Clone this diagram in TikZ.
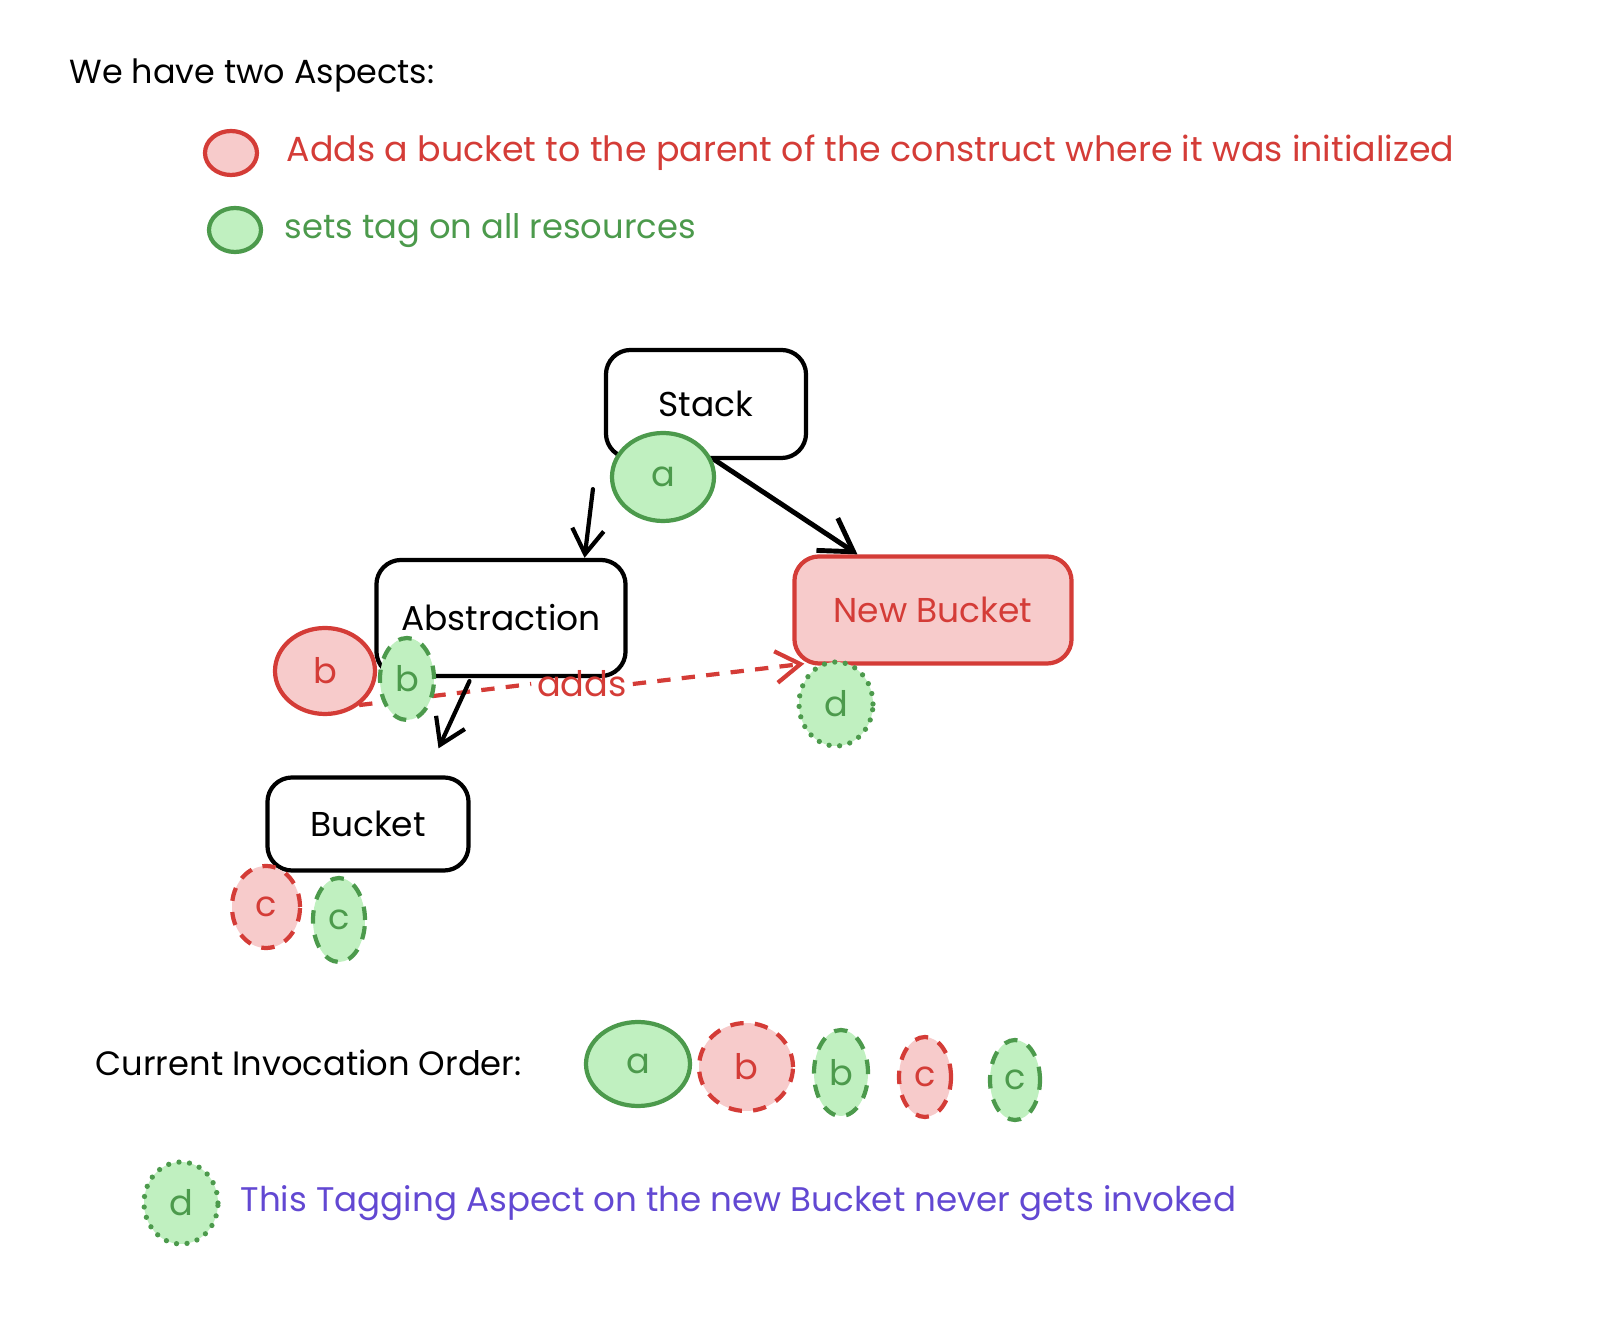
\documentclass[tikz,border=0pt]{standalone}
\usepackage{fontspec}
\setmainfont{Poppins}
\usetikzlibrary{arrows.meta,shapes.geometric,positioning}

\definecolor{aspred}{RGB}{212,60,55}
\definecolor{aspredfill}{RGB}{247,203,203}
\definecolor{aspgreen}{RGB}{76,154,76}
\definecolor{aspgreenfill}{RGB}{192,240,192}
\definecolor{notepurple}{RGB}{98,72,210}

\tikzset{
  construct/.style={draw, line width=1.2pt, rounded corners=7pt, inner sep=0pt, font=\fontsize{9.8}{12}\selectfont},
  esize/.style 2 args={minimum width=#1*0.01cm, minimum height=#2*0.01cm},
  redasp/.style={ellipse, draw=aspred, fill=aspredfill, text=aspred, line width=1.2pt, inner sep=0pt},
  greenasp/.style={ellipse, draw=aspgreen, fill=aspgreenfill, text=aspgreen, line width=1.2pt, inner sep=0pt},
  dashline/.style={dash pattern=on 3.8pt off 3.2pt},
  dotline/.style={dash pattern=on 0pt off 3pt, line cap=round, line width=1.5pt},
  flow/.style={-{Straight Barb[length=7pt,width=9pt]}, line width=1.2pt, line cap=round},
  plain/.style={anchor=west, inner sep=0pt, font=\fontsize{9.6}{12}\selectfont},
}

\begin{document}
\begin{tikzpicture}[x=0.01cm, y=-0.01cm, font=\fontsize{10}{12}\selectfont]
  \useasboundingbox (0, 0) rectangle (1602, 1334);

  \node[plain, font=\fontsize{9.5}{12}\selectfont] (title) at (69, 75) {We have two Aspects:};
  \node[redasp, esize={52}{44}] (legred) at (231, 153) {};
  \node[plain, text=aspred, font=\fontsize{9.9}{12}\selectfont] (legredtxt) at (286, 153) {Adds a bucket to the parent of the construct where it was initialized};
  \node[greenasp, esize={52}{44}] (leggreen) at (235, 230) {};
  \node[plain, text=aspgreen] (leggreentxt) at (284, 231) {sets tag on all resources};

  \node[construct, minimum width=2cm, minimum height=1.08cm] (stack) at (706, 404) {Stack};
  \node[construct, minimum width=2.49cm, minimum height=1.16cm] (abstraction) at (501, 618) {Abstraction};
  \node[construct, draw=aspred, fill=aspredfill, text=aspred, minimum width=2.77cm, minimum height=1.07cm] (newbucket) at (933, 610) {New Bucket};
  \node[construct, minimum width=2.01cm, minimum height=0.93cm] (bucket) at (368, 824) {Bucket};

  \node[greenasp, esize={102}{88}] (a) at (663, 477) {a};

  \coordinate (s1) at ([xshift=-1.13cm, yshift=-0.29cm]stack.south);
  \draw[flow] (s1) -- ([xshift=0.835cm]abstraction.north);
  \draw[flow, line width=1.4pt, -{Straight Barb[length=9pt,width=11pt]}] ([xshift=0.09cm]stack.south) -- ([xshift=-0.755cm]newbucket.north);

  \node[redasp, esize={100}{86}] (bred) at (325, 671) {b};
  \node[text=aspred, inner sep=1.5pt] (adds) at (582, 684) {adds};
  \draw[aspred, dashline, line width=1.2pt] (bred.-45) -- (adds.west);
  \draw[aspred, dashline, line width=1.2pt, -{Straight Barb[length=7pt,width=9pt]}] (adds.east) -- ([xshift=0.12cm, yshift=0.02cm]newbucket.south west);
  \node[greenasp, dashline, esize={54}{82}] (bgreen) at (407, 679) {b};

  \coordinate (s2) at ([xshift=0.705cm, yshift=0.27cm]bucket.north);
  \draw[flow] ([xshift=-0.315cm, yshift=-0.03cm]abstraction.south) -- (s2);

  \node[greenasp, dotline, esize={74}{84}] (d) at (836, 704) {d};

  \node[redasp, dashline, esize={68}{82}] (cred) at (266, 907) {c};
  \node[greenasp, dashline, esize={52}{84}] (cgreen) at (339, 920) {c};

  \node[plain] (order) at (95, 1063) {Current Invocation Order:};
  \node[greenasp, esize={104}{84}] (oa) at (638, 1064) {a};
  \node[redasp, dashline, esize={94}{88}] (obred) at (746, 1067) {b};
  \node[greenasp, dashline, esize={54}{86}] (obgreen) at (841, 1073) {b};
  \node[redasp, dashline, esize={52}{80}] (ocred) at (925, 1077) {c};
  \node[greenasp, dashline, esize={50}{80}] (ocgreen) at (1015, 1080) {c};

  \node[greenasp, dotline, esize={74}{82}] (dnote) at (181, 1203) {d};
  \node[plain, text=notepurple, font=\fontsize{9.7}{12}\selectfont] (note) at (240, 1203) {This Tagging Aspect on the new Bucket never gets invoked};
\end{tikzpicture}
\end{document}
